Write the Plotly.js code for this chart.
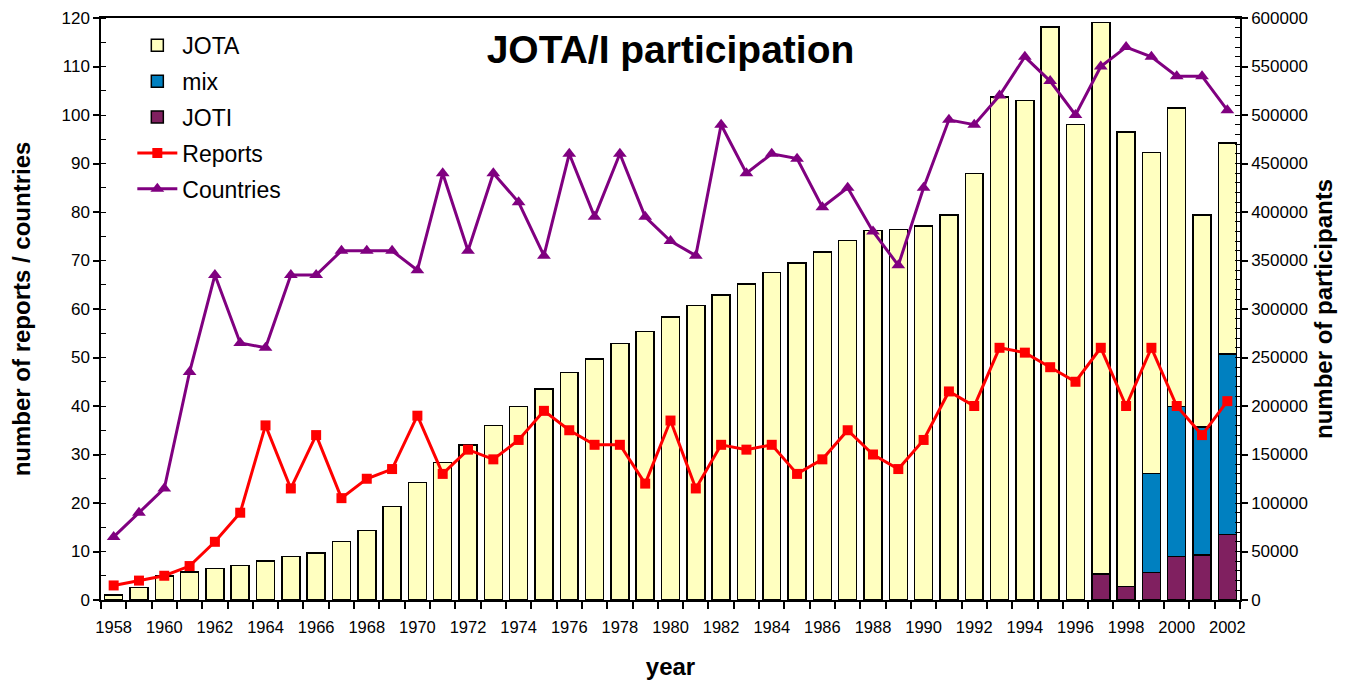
<!DOCTYPE html>
<html><head><meta charset="utf-8">
<script src="https://cdn.plot.ly/plotly-3.0.1.min.js"></script>
<style>html,body{margin:0;padding:0;background:#fff}#chart{width:1348px;height:682px}</style>
</head><body><div id="chart"></div>
<script>
const years = [1958,1959,1960,1961,1962,1963,1964,1965,1966,1967,1968,1969,1970,1971,1972,1973,1974,1975,1976,1977,1978,1979,1980,1981,1982,1983,1984,1985,1986,1987,1988,1989,1990,1991,1992,1993,1994,1995,1996,1997,1998,1999,2000,2001,2002];
const jota = [5000,12700,24700,29000,32700,35800,40200,45000,48500,60100,71800,96200,121000,142000,160000,179700,199600,217500,234300,248700,264200,277000,292000,303400,314400,325800,337400,347400,359000,370400,381000,382000,385600,396900,439500,518600,515200,590700,490400,568700,468400,331000,307700,218600,217400];
const mix = [null,null,null,null,null,null,null,null,null,null,null,null,null,null,null,null,null,null,null,null,null,null,null,null,null,null,null,null,null,null,null,null,null,null,null,null,null,null,null,null,null,101700,154600,132000,185900];
const joti = [null,null,null,null,null,null,null,null,null,null,null,null,null,null,null,null,null,null,null,null,null,null,null,null,null,null,null,null,null,null,null,null,null,null,null,null,null,null,null,26800,14100,28500,44700,46400,67700];
const reports = [3,4,5,7,12,18,36,23,34,21,25,27,38,26,31,29,33,39,35,32,32,24,37,23,32,31,32,26,29,35,30,27,33,43,40,52,51,48,45,52,40,52,40,34,41];
const countries = [13,18,23,47,67,53,52,67,67,72,72,72,68,88,72,88,82,71,92,79,92,79,74,71,98,88,92,91,81,85,76,69,85,99,98,104,112,107,100,110,114,112,108,108,101];
const xTickVals = [1958,1960,1962,1964,1966,1968,1970,1972,1974,1976,1978,1980,1982,1984,1986,1988,1990,1992,1994,1996,1998,2000,2002];

const F = '"Liberation Sans", Arial, sans-serif';
const barLine = {color:'#000', width:1.5};
const traces = [
  {type:'bar', name:'JOTI', x:years, y:joti, yaxis:'y', marker:{color:'#802060', line:barLine}, legendrank:3, legendgroup:'c'},
  {type:'bar', name:'mix', x:years, y:mix, yaxis:'y', marker:{color:'#0080C0', line:barLine}, legendrank:2, legendgroup:'b'},
  {type:'bar', name:'JOTA', x:years, y:jota, yaxis:'y', marker:{color:'#FFFFC0', line:barLine}, legendrank:1, legendgroup:'a'},
  {type:'scatter', mode:'lines+markers', name:'Reports', x:years, y:reports, yaxis:'y2', line:{color:'#FF0000', width:3}, marker:{symbol:'square', size:10, color:'#FF0000'}, legendrank:4, legendgroup:'d'},
  {type:'scatter', mode:'lines+markers', name:'Countries', x:years, y:countries, yaxis:'y2', line:{color:'#800080', width:3}, marker:{symbol:'triangle-up', size:12, color:'#800080'}, legendrank:5, legendgroup:'e'}
];
const layout = {
  width:1348, height:682,
  margin:{l:101, r:108, t:18, b:82},
  paper_bgcolor:'#fff', plot_bgcolor:'#fff',
  barmode:'stack', bargap:0.29,
  showlegend:true,
  font:{family:F, color:'#000', size:17},
  title:{text:'<b>JOTA/I participation</b>', font:{family:F, size:39, color:'#000'}, x:0.5, xanchor:'center', y:0.927, yanchor:'middle', xref:'paper'},
  legend:{x:0.0275, y:0.99, xanchor:'left', yanchor:'top', font:{family:F, size:23, color:'#000'}, bgcolor:'rgba(0,0,0,0)', tracegroupgap:3, itemwidth:40},
  xaxis:{range:[1957.5,2002.5], tickmode:'array', tickvals:xTickVals, ticks:'', showgrid:false, zeroline:false,
         showline:true, linecolor:'#000', linewidth:1.5, mirror:true,
         tickfont:{family:F, size:16.5}, ticklabelstandoff:11,
         minor:{tick0:1957.5, dtick:1, ticks:'outside', ticklen:7, tickcolor:'#000', tickwidth:1.5, showgrid:false},
         title:{text:'<b>year</b>', font:{family:F, size:24}, standoff:24}},
  yaxis:{side:'right', range:[0,600000], dtick:50000, tick0:0, ticks:'outside', ticklen:6, tickwidth:1.5, tickcolor:'#000',
         showgrid:false, zeroline:false, showline:true, linecolor:'#000', linewidth:1.5,
         tickfont:{family:F, size:17}, tickformat:'d', exponentformat:'none',
         minor:{dtick:10000, ticks:'inside', ticklen:5, tickwidth:1, tickcolor:'#000', showgrid:false},
         title:{text:'<b>number of participants</b>', font:{family:F, size:24}, standoff:8}},
  yaxis2:{side:'left', overlaying:'y', range:[0,120], dtick:10, tick0:0, ticks:'outside', ticklen:6, tickwidth:1.5, tickcolor:'#000',
         showgrid:false, zeroline:false, showline:true, linecolor:'#000', linewidth:1.5,
         tickfont:{family:F, size:17},
         minor:{dtick:5, ticks:'inside', ticklen:5, tickwidth:1, tickcolor:'#000', showgrid:false},
         title:{text:'<b>number of reports / countries</b>', font:{family:F, size:24}, standoff:24}}
};
Plotly.newPlot('chart', traces, layout, {displayModeBar:false, responsive:false});
</script></body></html>
